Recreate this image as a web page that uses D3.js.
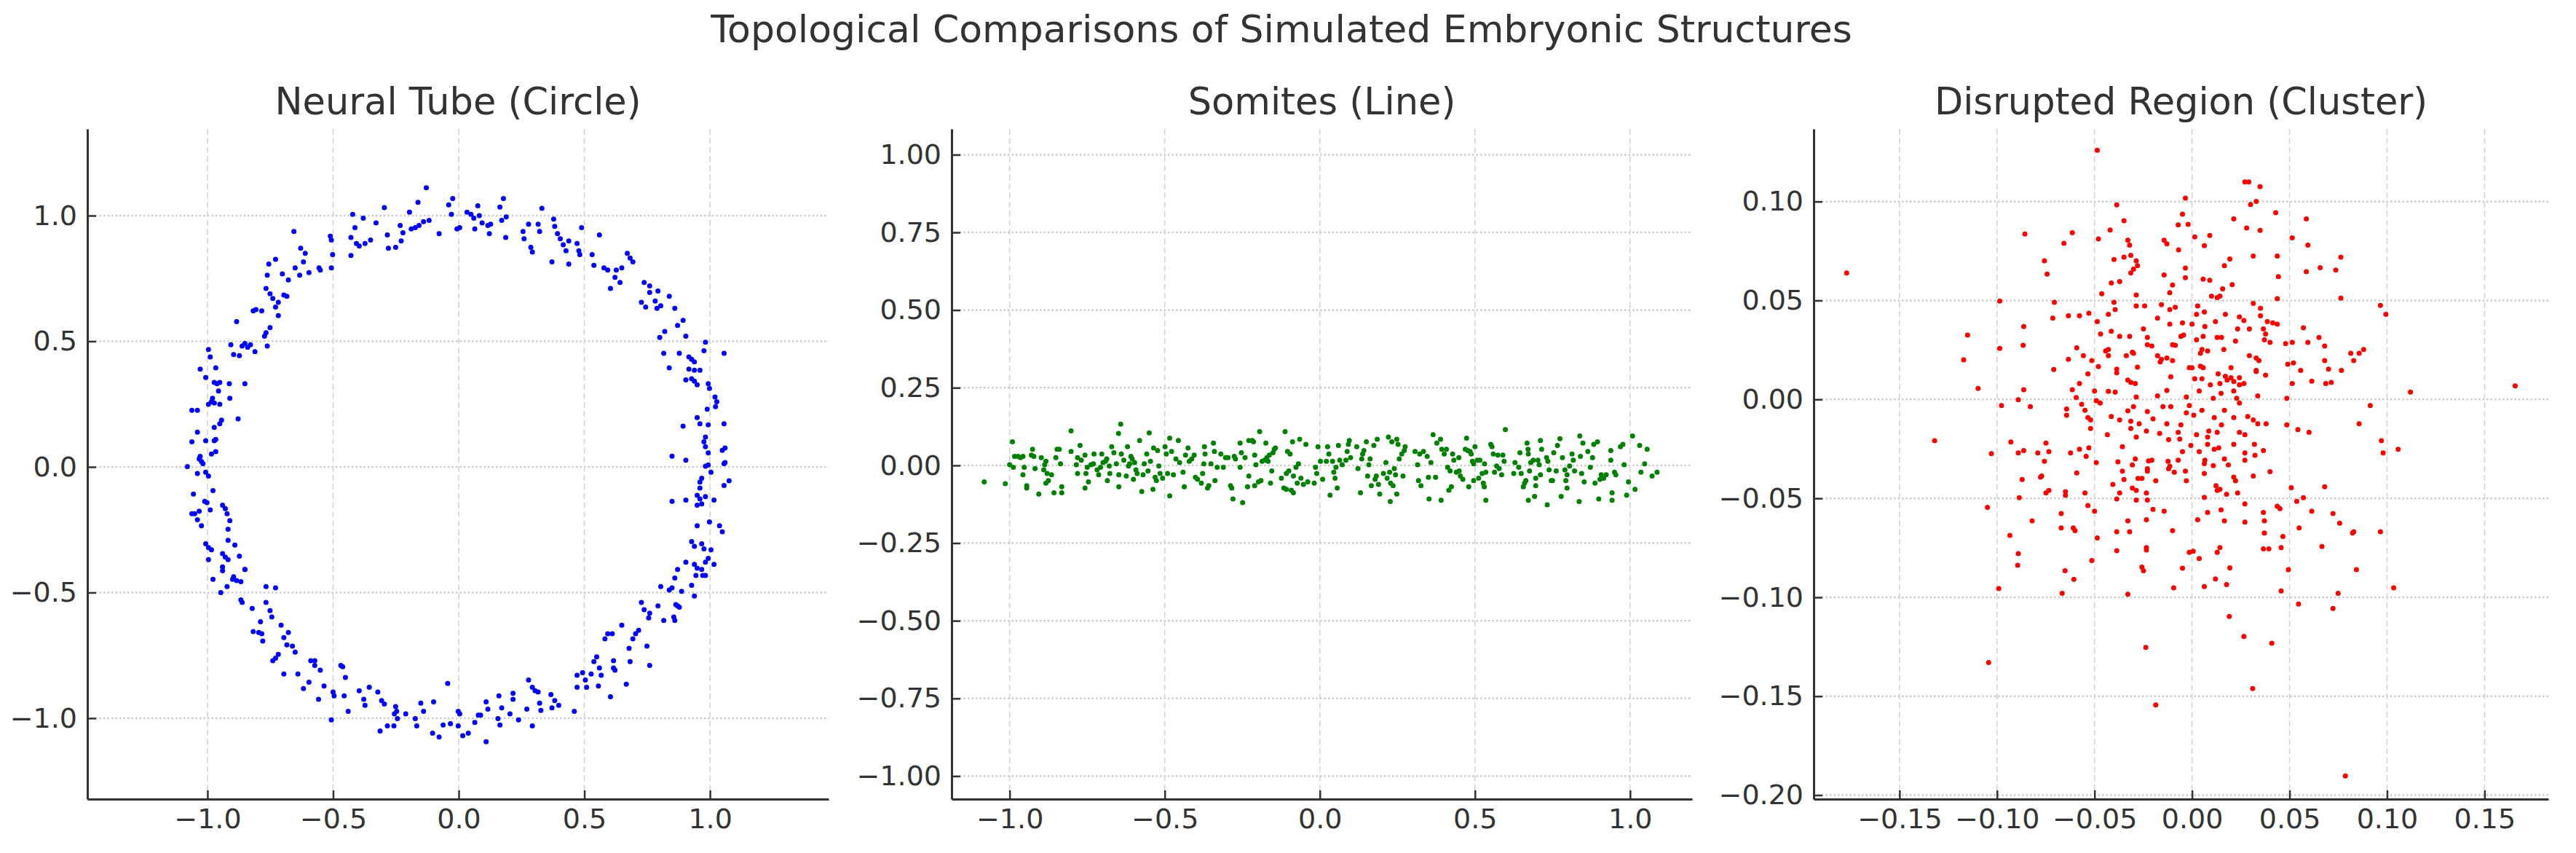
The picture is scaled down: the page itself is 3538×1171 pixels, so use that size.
<!DOCTYPE html>
<html><head><meta charset="utf-8">
<script src="https://cdn.jsdelivr.net/npm/d3@7"></script>
<style>html,body{margin:0;padding:0;background:#fff;} svg{display:block;}</style>
</head><body><svg id="c" width="3538" height="1171"></svg>
<script>
const figureTitle = "Topological Comparisons of Simulated Embryonic Structures";
const panelTitles = ["Neural Tube (Circle)", "Somites (Line)", "Disrupted Region (Cluster)"];

const tubeXTicks = [-1, -0.5, 0, 0.5, 1];
const tubeYTicks = [-1, -0.5, 0, 0.5, 1];
const somiteXTicks = [-1, -0.5, 0, 0.5, 1];
const somiteYTicks = [-1, -0.75, -0.5, -0.25, 0, 0.25, 0.5, 0.75, 1];
const clusterXTicks = [-0.15, -0.1, -0.05, 0, 0.05, 0.1, 0.15];
const clusterYTicks = [-0.2, -0.15, -0.1, -0.05, 0, 0.05, 0.1];

// Neural tube (noisy circle)
const neuralTube = [
[-0.767,0.710],[-0.762,0.763],[-0.756,0.807],[-0.729,0.826],[-0.702,0.768],[-0.678,0.744],[-0.656,0.937],[-0.651,0.792],[-0.633,0.763],[-0.629,0.870],
[-0.618,0.816],[-0.611,0.850],[-0.596,0.773],[-0.556,0.792],[-0.551,0.783],[-0.511,0.918],[-0.507,0.903],[-0.502,0.845],[-0.507,0.792],[-0.429,0.841],
[-0.429,0.913],[-0.422,1.005],[-0.413,0.952],[-0.407,0.889],[-0.396,0.879],[-0.380,0.990],[-0.373,0.889],[-0.351,0.903],[-0.329,0.971],[-0.296,1.032],
[-0.284,0.923],[-0.280,0.870],[-0.251,0.874],[-0.233,0.961],[-0.229,0.899],[-0.222,0.932],[-0.196,1.014],[-0.189,0.947],[-0.173,0.952],[-0.162,1.053],
[-0.158,0.961],[-0.140,0.976],[-0.129,1.111],[-0.118,0.981],[-0.078,0.928],[-0.040,1.043],[-0.024,1.068],[-0.029,1.005],[-0.007,0.947],[0.004,0.952],
[0.033,1.014],[0.049,1.005],[0.060,0.990],[0.064,0.947],[0.076,1.039],[0.082,1.000],[0.093,0.971],[0.116,0.961],[0.122,0.928],[0.127,0.966],
[0.164,1.034],[0.178,1.068],[0.171,0.981],[0.189,0.995],[0.187,0.913],[0.256,0.937],[0.260,0.908],[0.278,0.966],[0.287,0.874],[0.293,0.855],
[0.316,0.966],[0.322,0.937],[0.331,1.029],[0.371,0.816],[0.378,0.986],[0.382,0.957],[0.393,0.928],[0.404,0.908],[0.416,0.884],[0.427,0.860],
[0.438,0.899],[0.438,0.807],[0.471,0.889],[0.478,0.860],[0.482,0.845],[0.489,0.952],[0.531,0.845],[0.538,0.802],[0.560,0.923],[0.578,0.792],
[0.593,0.783],[0.627,0.783],[0.622,0.754],[0.642,0.734],[0.649,0.792],[0.671,0.850],[0.682,0.831],[0.693,0.816],[0.604,0.710],[0.738,0.734],
[0.760,0.720],[0.793,0.700],
[-0.751,0.689],[-0.740,0.670],[-0.718,0.655],[-0.696,0.684],[-0.684,0.679],[-0.729,0.636],[-0.718,0.602],[-0.751,0.554],[-0.767,0.534],[-0.773,0.520],
[-0.784,0.621],[-0.818,0.621],[-0.807,0.626],[-0.884,0.578],[-0.907,0.486],[-0.896,0.447],[-0.873,0.443],[-0.862,0.481],[-0.851,0.491],[-0.840,0.476],
[-0.829,0.486],[-0.811,0.459],[-0.762,0.481],[-1.029,0.389],[-1.007,0.356],[-0.996,0.467],[-0.989,0.438],[-0.967,0.394],[-0.973,0.336],[-0.962,0.331],
[-0.951,0.336],[-0.956,0.302],[-0.980,0.273],[-0.996,0.249],[-0.984,0.259],[-0.973,0.254],[-0.951,0.249],[-0.913,0.331],[-0.851,0.331],[-0.911,0.273],
[-1.062,0.225],[-1.040,0.225],[-1.040,0.138],[-1.062,0.100],[-1.007,0.104],[-0.973,0.157],[-0.951,0.172],[-0.944,0.186],[-0.973,0.104],[-0.967,0.109],
[-0.984,0.051],[-0.967,0.061],[-0.878,0.191],[-1.029,0.042],[-1.033,0.032],[-1.024,0.022],[-1.018,0.013],[-1.080,0.001],[-1.040,-0.026],[-1.007,-0.021],
[-0.996,-0.036],[-1.056,-0.108],[-0.978,-0.094],[-1.002,-0.142],[-1.011,-0.137],[-1.051,-0.186],[-1.062,-0.186],[-1.033,-0.176],[-0.989,-0.171],[-1.040,-0.210],
[-1.024,-0.234],[-0.940,-0.152],[-0.929,-0.166],[-0.922,-0.186],[-0.911,-0.214],[-0.918,-0.248],[-0.918,-0.292],[-0.891,-0.311],[-1.007,-0.306],[-0.996,-0.321],
[-0.984,-0.330],[-0.940,-0.345],[-0.929,-0.359],[-0.918,-0.369],[-0.873,-0.355],[-0.996,-0.369],[-0.940,-0.398],[-0.851,-0.408],
[0.727,0.655],[0.744,0.636],[0.760,0.694],[0.782,0.660],[0.789,0.631],[0.804,0.641],[0.838,0.679],[0.860,0.631],[0.800,0.515],[0.820,0.539],
[0.871,0.563],[0.893,0.583],[0.904,0.520],[0.982,0.496],[0.816,0.452],[0.878,0.452],[0.838,0.394],[0.916,0.438],[0.927,0.428],[0.938,0.418],
[0.976,0.462],[1.056,0.452],[0.916,0.389],[0.938,0.385],[0.960,0.385],[0.904,0.346],[0.927,0.351],[0.938,0.341],[0.949,0.327],[0.993,0.331],
[0.998,0.312],[1.020,0.278],[1.027,0.259],[1.022,0.240],[0.989,0.230],[0.949,0.196],[0.960,0.172],[0.993,0.167],[1.056,0.172],[0.893,0.162],
[0.982,0.119],[0.976,0.100],[0.982,0.080],[0.993,0.056],[1.060,0.075],[1.049,0.066],[0.849,0.043],[0.904,0.027],[0.993,0.008],[0.982,0.003],
[1.004,-0.021],[1.060,0.017],[1.056,0.013],[1.076,-0.055],[1.056,-0.074],[0.967,-0.045],[0.960,-0.060],[0.960,-0.084],[0.949,-0.113],[0.960,-0.128],
[0.967,-0.147],[0.949,-0.152],[0.982,-0.118],[1.016,-0.132],[0.849,-0.137],[0.904,-0.132],[0.949,-0.234],[0.998,-0.219],[1.038,-0.234],[1.049,-0.258],
[0.927,-0.297],[0.938,-0.316],[0.967,-0.306],[0.976,-0.326],[1.004,-0.330],[0.904,-0.379],[0.938,-0.388],[0.949,-0.403],[0.982,-0.379],[0.993,-0.364],
[1.016,-0.388],
[-0.978,-0.447],[-0.940,-0.413],[-0.922,-0.476],[-0.896,-0.437],[-0.884,-0.452],[-0.900,-0.447],[-0.867,-0.457],[-0.851,-0.408],[-0.947,-0.500],[-0.867,-0.529],
[-0.862,-0.539],[-0.822,-0.563],[-0.789,-0.616],[-0.767,-0.476],[-0.729,-0.481],[-0.767,-0.539],[-0.751,-0.572],[-0.744,-0.597],[-0.818,-0.655],[-0.796,-0.659],
[-0.784,-0.664],[-0.780,-0.693],[-0.707,-0.630],[-0.696,-0.679],[-0.684,-0.708],[-0.678,-0.659],[-0.662,-0.713],[-0.651,-0.737],[-0.718,-0.746],[-0.729,-0.761],
[-0.740,-0.771],[-0.696,-0.824],[-0.640,-0.824],[-0.618,-0.882],[-0.596,-0.857],[-0.589,-0.771],[-0.573,-0.771],[-0.573,-0.790],[-0.551,-0.809],[-0.558,-0.925],
[-0.536,-0.872],[-0.500,-0.896],[-0.496,-0.911],[-0.507,-1.007],[-0.469,-0.790],[-0.462,-0.795],[-0.456,-0.911],[-0.451,-0.838],[-0.440,-0.973],[-0.396,-0.891],
[-0.378,-0.925],[-0.373,-0.949],[-0.356,-0.877],[-0.322,-0.896],[-0.307,-0.930],[-0.296,-0.944],[-0.313,-1.051],[-0.284,-1.031],[-0.258,-1.031],[-0.251,-0.954],
[-0.247,-0.973],[-0.256,-0.983],[-0.244,-1.002],[-0.211,-0.983],[-0.173,-1.002],[-0.167,-1.031],[-0.151,-0.940],[-0.140,-0.973],[-0.100,-0.935],[-0.104,-1.060],
[-0.078,-1.075],[-0.062,-1.027],[-0.044,-0.862],[-0.033,-1.022],[-0.002,-0.973],[0.004,-0.983],[-0.002,-1.031],[0.016,-1.070],[0.038,-1.060],[0.064,-1.017],
[0.078,-0.988],[0.087,-0.988],[0.109,-0.935],[0.116,-0.964],[0.109,-1.094],[0.160,-0.911],[0.156,-1.002],[0.164,-1.027],[0.171,-0.959],[0.204,-0.983],
[0.216,-0.901],[0.216,-0.925],[0.238,-1.007],[0.271,-0.964],[0.278,-0.848],[0.293,-0.877],[0.293,-1.031],[0.304,-0.891],[0.316,-0.896],[0.322,-0.940],
[0.327,-0.969],[0.367,-0.906],[0.371,-0.959],[0.382,-0.930],[0.398,-0.949],[0.460,-0.973],
[0.471,-0.829],[0.493,-0.819],[0.471,-0.877],[0.504,-0.848],[0.509,-0.877],[0.527,-0.824],[0.538,-0.775],[0.549,-0.756],[0.560,-0.800],[0.567,-0.829],
[0.556,-0.872],[0.582,-0.684],[0.593,-0.664],[0.611,-0.664],[0.604,-0.915],[0.616,-0.771],[0.616,-0.800],[0.622,-0.809],[0.649,-0.630],[0.667,-0.865],
[0.678,-0.722],[0.682,-0.775],[0.693,-0.684],[0.704,-0.664],[0.716,-0.650],[0.727,-0.539],[0.738,-0.568],[0.749,-0.713],[0.760,-0.790],[0.756,-0.601],
[0.760,-0.582],[0.793,-0.553],[0.804,-0.476],[0.816,-0.611],[0.838,-0.490],[0.849,-0.481],[0.856,-0.597],[0.860,-0.611],[0.864,-0.548],[0.871,-0.553],
[0.887,-0.495],[0.878,-0.558],[0.860,-0.442],[0.871,-0.408],[0.927,-0.471],[0.938,-0.514],[0.944,-0.432],[0.971,-0.432],[0.982,-0.432],[0.967,-0.408]
];

// Somites (noisy line)
const somites = [
[-1.082,-0.053],[-1.014,-0.059],[-0.991,0.076],[-1.000,0.002],[-0.988,-0.006],[-0.984,0.029],[-0.973,0.029],[-0.965,0.025],[-0.957,0.029],[-0.953,-0.006],
[-0.957,-0.030],[-0.945,-0.073],[-0.945,-0.065],[-0.926,0.052],[-0.930,0.033],[-0.922,0.029],[-0.918,-0.010],[-0.906,-0.092],[-0.898,0.025],[-0.890,-0.014],
[-0.887,0.002],[-0.883,0.013],[-0.879,-0.026],[-0.883,-0.057],[-0.875,-0.049],[-0.865,-0.030],[-0.857,-0.088],[-0.851,0.025],[-0.847,0.052],[-0.840,0.052],
[-0.836,0.005],[-0.832,-0.069],[-0.832,-0.088],[-0.802,0.111],[-0.802,0.045],[-0.785,0.002],[-0.781,-0.026],[-0.781,0.025],[-0.773,0.064],[-0.769,0.017],
[-0.757,0.033],[-0.757,-0.073],[-0.754,-0.026],[-0.750,-0.006],[-0.746,-0.053],[-0.738,0.002],[-0.730,0.005],[-0.728,0.037],[-0.718,-0.014],[-0.713,-0.030],
[-0.707,-0.006],[-0.703,0.037],[-0.699,0.009],[-0.691,0.013],[-0.687,0.021],[-0.685,-0.049],[-0.679,-0.002],[-0.677,-0.026],[-0.671,0.060],[-0.664,0.041],
[-0.656,0.005],[-0.649,0.103],[-0.648,-0.030],[-0.648,-0.069],[-0.642,0.133],[-0.640,0.037],[-0.632,0.017],[-0.624,-0.034],[-0.620,0.060],[-0.617,-0.002],
[-0.613,0.005],[-0.609,0.029],[-0.605,0.021],[-0.601,-0.045],[-0.597,0.009],[-0.593,-0.014],[-0.589,-0.026],[-0.581,0.080],[-0.574,-0.084],[-0.570,-0.030],
[-0.566,0.005],[-0.558,0.037],[-0.554,-0.018],[-0.550,0.105],[-0.546,0.013],[-0.538,-0.077],[-0.536,0.056],[-0.531,-0.038],[-0.527,-0.049],[-0.523,0.048],
[-0.519,-0.002],[-0.515,-0.026],[-0.507,-0.041],[-0.499,0.060],[-0.495,0.037],[-0.491,-0.026],[-0.484,0.088],[-0.484,-0.098],[-0.478,0.045],[-0.472,-0.030],
[-0.464,0.021],[-0.456,0.080],[-0.452,0.009],[-0.441,-0.022],[-0.437,-0.069],[-0.433,0.033],[-0.425,0.056],[-0.421,0.013],[-0.413,0.021],[-0.405,0.033],
[-0.401,-0.038],[-0.394,-0.045],[-0.382,-0.057],[-0.378,-0.026],[-0.374,0.005],[-0.372,0.060],[-0.370,0.037],[-0.362,-0.073],[-0.358,-0.065],[-0.351,0.005],
[-0.343,0.072],[-0.340,0.045],[-0.338,-0.049],[-0.331,-0.006],
[-0.319,0.037],[-0.311,-0.006],[-0.304,0.025],[-0.296,0.025],[-0.288,-0.065],[-0.284,-0.073],[-0.280,-0.108],[-0.276,0.029],[-0.272,0.021],[-0.257,0.072],
[-0.257,-0.006],[-0.253,0.041],[-0.249,-0.120],[-0.241,0.025],[-0.233,-0.069],[-0.229,0.080],[-0.229,-0.034],[-0.218,0.080],[-0.214,0.076],[-0.210,0.033],
[-0.210,-0.065],[-0.206,0.002],[-0.198,-0.053],[-0.194,0.109],[-0.190,-0.049],[-0.186,0.013],[-0.178,0.017],[-0.174,0.072],[-0.171,0.025],[-0.167,0.013],
[-0.163,0.033],[-0.159,-0.057],[-0.155,-0.018],[-0.151,0.041],[-0.147,0.052],[-0.143,0.056],[-0.124,-0.041],[-0.116,-0.073],[-0.112,0.109],[-0.108,-0.026],
[-0.108,-0.077],[-0.104,0.045],[-0.100,-0.018],[-0.096,0.037],[-0.092,-0.080],[-0.088,0.076],[-0.085,-0.034],[-0.085,-0.088],[-0.077,-0.006],[-0.073,-0.057],
[-0.069,0.005],[-0.065,0.084],[-0.061,-0.041],[-0.053,-0.061],[-0.045,0.068],[-0.039,-0.053],[-0.018,-0.057],[-0.014,-0.006],[-0.010,-0.026],[-0.006,0.060],
[0.002,0.013],[0.009,-0.045],[0.021,0.013],[0.025,0.060],[0.029,0.037],[0.033,-0.096],[0.041,0.013],[0.045,-0.022],[0.049,-0.041],[0.052,-0.006],
[0.056,-0.073],[0.060,0.064],[0.064,0.017],[0.072,0.002],[0.084,0.017],[0.088,0.045],[0.092,0.068],[0.095,0.080],[0.099,0.025],[0.119,0.060],
[0.123,-0.010],[0.131,-0.088],[0.135,0.021],[0.138,0.037],[0.142,0.048],[0.150,0.076],[0.154,-0.034],[0.158,0.002],[0.162,0.021],[0.166,-0.065],
[0.174,0.064],[0.178,-0.045],[0.182,-0.034],[0.185,0.084],[0.189,-0.061],[0.193,-0.092],[0.205,-0.026],[0.213,0.009],[0.217,-0.041],[0.221,0.091],
[0.225,-0.022],[0.227,-0.116],[0.228,-0.057],[0.232,0.076],[0.236,-0.065],[0.240,-0.010],[0.244,-0.030],[0.248,-0.092],[0.248,0.084],[0.252,0.068],
[0.256,0.021],[0.264,0.037],[0.268,-0.034],[0.272,0.048],[0.275,0.060],[0.307,0.045],[0.315,0.002],[0.318,-0.049],[0.322,0.037],[0.326,-0.065],
[0.334,0.045],[0.346,0.029],[0.350,-0.038],[0.352,-0.108],[0.358,0.009],[0.365,0.099],[0.373,-0.038],[0.377,0.072],[0.389,0.084],[0.391,-0.112],
[0.393,0.052],[0.401,0.037],[0.408,0.052],[0.412,-0.006],[0.416,-0.080],[0.420,-0.018],[0.424,-0.069],[0.428,0.037],[0.432,0.017],[0.440,-0.022],
[0.448,0.025],
[0.449,-0.018],[0.453,-0.034],[0.461,-0.045],[0.473,0.088],[0.469,0.052],[0.477,0.048],[0.480,-0.069],[0.484,0.045],[0.488,0.037],[0.492,0.013],
[0.496,0.005],[0.496,-0.049],[0.500,0.060],[0.508,0.017],[0.512,-0.041],[0.516,0.017],[0.523,-0.026],[0.527,-0.057],[0.530,-0.069],[0.531,0.005],
[0.535,-0.112],[0.535,-0.022],[0.551,0.068],[0.555,0.060],[0.559,0.037],[0.563,-0.022],[0.570,-0.002],[0.574,0.033],[0.578,-0.010],[0.586,-0.030],
[0.590,0.033],[0.594,0.013],[0.598,0.115],[0.625,-0.026],[0.629,0.009],[0.641,-0.006],[0.645,0.041],[0.649,-0.026],[0.656,-0.069],[0.660,-0.057],
[0.664,-0.049],[0.668,0.072],[0.671,0.052],[0.672,0.037],[0.672,-0.112],[0.676,-0.018],[0.680,0.009],[0.688,0.017],[0.692,-0.100],[0.696,-0.041],
[0.696,-0.065],[0.703,0.017],[0.707,0.002],[0.711,0.080],[0.715,0.052],[0.711,-0.030],[0.731,0.025],[0.733,-0.127],[0.735,0.013],[0.739,-0.014],
[0.746,-0.049],[0.750,-0.049],[0.754,0.041],[0.762,-0.018],[0.766,0.064],[0.774,0.086],[0.778,-0.100],[0.782,0.025],[0.790,-0.014],[0.793,-0.049],
[0.797,-0.030],[0.797,-0.073],[0.805,-0.002],[0.813,0.037],[0.817,0.017],[0.821,-0.018],[0.836,-0.116],[0.838,0.095],[0.840,0.029],[0.844,-0.026],
[0.848,0.072],[0.852,-0.053],[0.864,0.045],[0.872,-0.006],[0.879,0.025],[0.883,0.068],[0.887,-0.057],[0.895,0.076],[0.899,-0.108],[0.903,-0.045],
[0.907,-0.030],[0.915,-0.041],[0.923,-0.030],[0.938,0.048],[0.938,0.017],[0.942,-0.088],[0.942,-0.112],[0.950,-0.022],[0.954,-0.030],[0.969,0.060],
[0.977,0.068],[0.981,0.002],[0.989,-0.096],[0.995,-0.053],[1.008,0.095],[1.016,-0.077],[1.031,0.064],[1.035,-0.022],[1.047,0.005],[1.055,0.052],
[1.071,-0.034],[1.087,-0.022]
];

// Disrupted region (cluster)
const disrupted = [
[-0.0486,0.1259],[-0.1771,0.0639],[0.0271,0.1099],[0.0291,0.1099],[0.0349,0.1075],[-0.0034,0.1017],[0.0300,0.0985],[0.0329,0.1001],[-0.0386,0.0983],[0.0429,0.0944],
[-0.0049,0.0936],[-0.0349,0.0903],[0.0214,0.0912],[0.0586,0.0912],[-0.0071,0.0882],[-0.0020,0.0885],[-0.0420,0.0856],[0.0280,0.0866],[0.0349,0.0854],[-0.0857,0.0836],
[-0.0614,0.0842],[-0.0657,0.0789],[-0.0480,0.0811],[-0.0329,0.0805],[-0.0320,0.0780],[-0.0143,0.0805],[-0.0129,0.0786],[0.0014,0.0821],[0.0091,0.0829],[0.0063,0.0777],
[-0.0069,0.0756],[0.0514,0.0817],[0.0594,0.0780],[-0.0757,0.0701],[-0.0400,0.0707],[-0.0349,0.0719],[-0.0314,0.0728],[-0.0286,0.0701],[-0.0280,0.0676],[-0.0300,0.0658],
[-0.0314,0.0639],[0.0314,0.0725],[0.0437,0.0725],[0.0194,0.0710],[0.0166,0.0676],[0.0763,0.0719],[0.0657,0.0666],[0.0737,0.0654],[0.0586,0.0645],[-0.0743,0.0633],
[-0.0143,0.0629],[-0.0034,0.0664],[-0.0034,0.0615],[0.0057,0.0608],[0.0091,0.0602],[-0.0414,0.0588],[-0.0371,0.0596],[-0.0100,0.0578],[0.0206,0.0580],[0.0157,0.0559],
[0.0443,0.0621],
[-0.0463,0.0534],[-0.0286,0.0528],[-0.0114,0.0540],[0.0143,0.0522],[0.0129,0.0515],[-0.0986,0.0497],[-0.0706,0.0491],[-0.0400,0.0491],[-0.0286,0.0472],[-0.0243,0.0472],
[-0.0157,0.0479],[-0.0086,0.0466],[0.0029,0.0472],[0.0100,0.0522],[0.0314,0.0485],[0.0351,0.0460],[0.0437,0.0509],[0.0763,0.0512],[0.0966,0.0475],[0.0994,0.0430],
[-0.0714,0.0411],[-0.0634,0.0423],[-0.0577,0.0423],[-0.0529,0.0436],[-0.0429,0.0430],[-0.0394,0.0454],[-0.0177,0.0411],[-0.0114,0.0454],[0.0023,0.0430],[0.0063,0.0442],
[0.0171,0.0430],[0.0243,0.0417],[0.0266,0.0399],[0.0351,0.0423],[-0.0486,0.0393],[-0.0863,0.0368],[-0.1151,0.0325],[-0.0469,0.0331],[-0.0414,0.0344],[-0.0371,0.0319],
[-0.0320,0.0319],[-0.0249,0.0356],[-0.0114,0.0380],[-0.0049,0.0387],[0.0000,0.0380],[0.0066,0.0368],[0.0120,0.0393],[0.0234,0.0356],[0.0294,0.0356],[0.0366,0.0356],
[0.0386,0.0393],[0.0414,0.0387],[0.0437,0.0380],[0.0571,0.0362],[0.0377,0.0331],[-0.0229,0.0313],[-0.0057,0.0319],[-0.0043,0.0325],[0.0023,0.0301],[0.0057,0.0319],
[0.0129,0.0313],[0.0151,0.0313],[0.0223,0.0295],[0.0651,0.0313],[0.0480,0.0282],[0.0514,0.0288],[0.0400,0.0288],[0.0371,0.0301],[-0.0100,0.0276],[-0.0986,0.0258],
[-0.0866,0.0274],[-0.0591,0.0261],[-0.0443,0.0245],[-0.0429,0.0252],[-0.0306,0.0239],[-0.0229,0.0276],[-0.0206,0.0270],[-0.0086,0.0274],[0.0051,0.0252],[0.0043,0.0233],
[0.0080,0.0245],[0.0163,0.0252],[0.0594,0.0288],[0.0680,0.0270],[0.0880,0.0252],[0.0857,0.0233],[0.0814,0.0233],[0.0829,0.0196],[0.0329,0.0209],[0.0343,0.0196],
[0.0491,0.0178],[0.0520,0.0184],[-0.0634,0.0203],[-0.0557,0.0221],[-0.0514,0.0196],[-0.0429,0.0221],[-0.0337,0.0221],[-0.0300,0.0233],[-0.0177,0.0221],[-0.0157,0.0203],
[-0.0129,0.0209],[-0.0100,0.0196],[0.0294,0.0221],[-0.0163,0.0190],[0.0680,0.0196],[-0.1171,0.0200],[-0.0709,0.0151],[-0.0386,0.0153],[-0.0386,0.0135],[-0.0280,0.0163],
[-0.0014,0.0160],[0.0000,0.0160],[0.0043,0.0168],[0.0057,0.0160],[0.0200,0.0160],[0.0329,0.0147],[0.0377,0.0123],[0.0557,0.0147],[0.0700,0.0153],[0.0766,0.0147],
[-0.0534,0.0129],[-0.0480,0.0166],[0.0134,0.0129],[0.0171,0.0117],[-0.0109,0.0114],[0.0200,0.0110],[0.0243,0.0110],[-0.0577,0.0080],[-0.0329,0.0098],[-0.0314,0.0086],
[-0.0291,0.0080],[0.0014,0.0104],[0.0051,0.0104],[0.0094,0.0074],[0.0143,0.0080],[0.0180,0.0098],[0.0214,0.0090],[0.0243,0.0074],[0.0266,0.0080],[0.0514,0.0080],
[0.0614,0.0092],[0.0686,0.0080],[0.0714,0.0086],[0.0329,0.0141],[-0.1097,0.0055],[-0.0863,0.0049],[-0.0614,0.0049],[-0.0500,0.0043],[-0.0429,0.0041],[-0.0394,0.0037],
[-0.0177,0.0018],[-0.0129,0.0045],[-0.0029,0.0012],[0.0037,0.0043],[0.0109,0.0006],[0.0149,0.0031],[0.0214,0.0043],[0.0229,0.0006],[0.0243,-0.0018],[0.0337,0.0018],
[0.0486,0.0006],[-0.0891,-0.0002],[-0.0977,-0.0031],[-0.0829,-0.0037],[-0.0594,0.0009],[-0.0566,-0.0025],[-0.0491,-0.0006],[-0.0471,-0.0018],[-0.0286,0.0012],[-0.0300,-0.0037],
[-0.0149,-0.0037],[-0.0109,-0.0037],[-0.0014,-0.0031],[-0.0029,-0.0068],[0.0051,-0.0055],[0.0166,-0.0055],[0.0914,-0.0031],[0.1120,0.0037],[0.1657,0.0068],[-0.0643,-0.0049],
[-0.0643,-0.0080],[-0.0549,-0.0055],[-0.0534,-0.0092],[-0.0329,-0.0058],[-0.0229,-0.0061],[-0.0520,-0.0104],[-0.0414,-0.0086],[-0.0371,-0.0104],[-0.0314,-0.0110],[-0.0271,-0.0123],
[-0.0234,-0.0160],[-0.0200,-0.0098],[-0.0129,-0.0123],[-0.0057,-0.0129],[0.0009,-0.0080],[0.0114,-0.0092],[0.0214,-0.0092],[0.0286,-0.0086],[0.0314,-0.0104],[0.0337,-0.0123],
[0.0380,-0.0123],[0.0151,-0.0129],[0.0486,-0.0129],[0.0543,-0.0153],[0.0600,-0.0166],[0.0857,-0.0123],[-0.0520,-0.0147],[-0.0434,-0.0178],[-0.0314,-0.0147],[-0.0286,-0.0190],
[-0.0166,-0.0172],[-0.0071,-0.0166],[0.0023,-0.0178],[0.0086,-0.0160],[0.0129,-0.0166],[0.0243,-0.0166],[0.0271,-0.0178],[-0.1320,-0.0209],[-0.0929,-0.0215],[-0.0749,-0.0221],
[-0.1029,-0.0274],[-0.0891,-0.0270],[-0.0863,-0.0258],[-0.0791,-0.0270],[-0.0734,-0.0264],[-0.0623,-0.0270],[-0.0577,-0.0252],[-0.0529,-0.0245],[-0.0357,-0.0239],[-0.0120,-0.0203],
[-0.0063,-0.0200],[-0.0006,-0.0233],[0.0080,-0.0227],[0.0137,-0.0245],[0.0114,-0.0252],[0.0214,-0.0227],[0.0320,-0.0227],[0.0080,-0.0190],[0.0971,-0.0209],[0.0980,-0.0270],
[0.1057,-0.0252],[-0.0049,-0.0264],[0.0037,-0.0264],[0.0271,-0.0270],[0.0366,-0.0258],[-0.0543,-0.0288],[-0.0380,-0.0315],[-0.0291,-0.0301],[-0.0223,-0.0311],[-0.0206,-0.0307],
[-0.0123,-0.0313],[-0.0071,-0.0307],[0.0066,-0.0307],[0.0166,-0.0301],[0.0271,-0.0307],[0.0323,-0.0282],[-0.0757,-0.0313],[-0.0491,-0.0319],[-0.0306,-0.0331],[-0.0229,-0.0350],
[-0.0114,-0.0338],[-0.0091,-0.0368],[-0.0120,-0.0350],[-0.0034,-0.0362],[0.0063,-0.0325],[0.0109,-0.0335],[0.0186,-0.0331],[-0.0771,-0.0387],[-0.0591,-0.0372],[-0.0357,-0.0362],
[-0.0229,-0.0362],[0.0063,-0.0374],[0.0214,-0.0393],[0.0223,-0.0411],[0.0400,-0.0365],[0.0314,-0.0387],[-0.0871,-0.0405],[-0.0777,-0.0393],[-0.0406,-0.0430],[-0.0349,-0.0405],
[-0.0277,-0.0399],[-0.0257,-0.0399],[-0.0186,-0.0411],[-0.0029,-0.0411],[0.0123,-0.0436],[0.0143,-0.0454],[0.0509,-0.0446],[0.0680,-0.0442],[-0.0734,-0.0460],[-0.0749,-0.0473],
[-0.0649,-0.0466],[-0.0649,-0.0485],[-0.0549,-0.0473],[-0.0886,-0.0497],[-0.0371,-0.0473],[-0.0306,-0.0448],[-0.0286,-0.0460],[-0.0234,-0.0473],[-0.0229,-0.0509],[0.0063,-0.0495],
[0.0129,-0.0460],[0.0177,-0.0479],[0.0234,-0.0473],[0.0571,-0.0497],[0.0537,-0.0515],[-0.1049,-0.0546],[-0.0534,-0.0536],[-0.0500,-0.0565],[-0.0386,-0.0503],[-0.0286,-0.0509],
[-0.0200,-0.0556],[-0.0143,-0.0565],[0.0149,-0.0558],[0.0080,-0.0571],[0.0437,-0.0540],[0.0451,-0.0552],[0.0366,-0.0571],[0.0271,-0.0528],[-0.0671,-0.0577],[-0.0820,-0.0614],
[-0.0329,-0.0614],[-0.0234,-0.0608],[0.0029,-0.0608],[0.0166,-0.0614],[0.0271,-0.0620],[0.0371,-0.0614],[0.0614,-0.0565],[0.0723,-0.0577],[0.0757,-0.0626],[-0.0671,-0.0650],
[-0.0600,-0.0663],[-0.0609,-0.0650],[-0.0386,-0.0669],[-0.0320,-0.0669],[-0.0100,-0.0663],[0.0371,-0.0675],[0.0549,-0.0650],[0.0829,-0.0669],[0.0823,-0.0675],[0.0966,-0.0669],
[-0.0934,-0.0687],[-0.0486,-0.0700],[0.0466,-0.0693],[-0.0891,-0.0779],[-0.0386,-0.0765],[-0.0234,-0.0749],[-0.0234,-0.0761],[-0.0014,-0.0773],[0.0006,-0.0767],[0.0037,-0.0804],
[0.0129,-0.0773],[0.0143,-0.0749],[0.0366,-0.0755],[0.0394,-0.0755],[0.0457,-0.0749],[0.0666,-0.0743],[-0.0894,-0.0838],[-0.0514,-0.0814],[-0.0257,-0.0847],[-0.0049,-0.0853],
[0.0194,-0.0851],
[-0.0651,-0.0866],[-0.0249,-0.0866],[0.0494,-0.0860],[0.0843,-0.0860],[-0.0606,-0.0909],[-0.0991,-0.0956],[-0.0666,-0.0980],[-0.0329,-0.0985],[-0.0094,-0.0952],[0.0063,-0.0946],
[0.0120,-0.0907],[0.0177,-0.0936],[0.0457,-0.0968],[0.0749,-0.0980],[0.1034,-0.0952],[0.0546,-0.1034],[0.0723,-0.1056],[0.0191,-0.1097],[0.0266,-0.1198],[0.0409,-0.1232],
[-0.0237,-0.1253],[-0.1043,-0.1330],[0.0311,-0.1461],[-0.0186,-0.1544],[0.0786,-0.1903]
];

const seriesColors = ["#0000ff", "#008000", "#ff0000"];

// ---------- layout ----------
const W = 3538, H = 1171;
const plotTop = 177, plotBottom = 1097;
const panels = [
  {title: panelTitles[0], data: neuralTube, color: seriesColors[0], left: 120, right: 1138,
   xDomain: [-1.478, 1.472], yDomain: [-1.322, 1.345], xTicks: tubeXTicks, yTicks: tubeYTicks, xFmt: ".1f", yFmt: ".1f"},
  {title: panelTitles[1], data: somites, color: seriesColors[1], left: 1307, right: 2324,
   xDomain: [-1.187, 1.200], yDomain: [-1.074, 1.083], xTicks: somiteXTicks, yTicks: somiteYTicks, xFmt: ".1f", yFmt: ".2f"},
  {title: panelTitles[2], data: disrupted, color: seriesColors[2], left: 2491, right: 3500,
   xDomain: [-0.194, 0.1827], yDomain: [-0.202, 0.1367], xTicks: clusterXTicks, yTicks: clusterYTicks, xFmt: ".2f", yFmt: ".2f"}
];

const FONT = "'DejaVu Sans', Verdana, sans-serif";
const TEXT = "#333333";
const svg = d3.select("#c");
svg.append("rect").attr("width", W).attr("height", H).attr("fill", "#fff");

svg.append("text")
  .attr("x", 1760).attr("y", 58)
  .attr("text-anchor", "middle")
  .attr("font-family", FONT).attr("font-size", 52).attr("fill", TEXT)
  .text(figureTitle);

panels.forEach(p => {
  const x = d3.scaleLinear().domain(p.xDomain).range([p.left, p.right]);
  const y = d3.scaleLinear().domain(p.yDomain).range([plotBottom, plotTop]);
  const g = svg.append("g");

  // grid
  g.append("g").selectAll("line").data(p.yTicks).join("line")
    .attr("x1", p.left).attr("x2", p.right)
    .attr("y1", d => y(d)).attr("y2", d => y(d))
    .attr("stroke", "#cccccc").attr("stroke-width", 2.5)
    .attr("stroke-dasharray", "2.5,3");
  g.append("g").selectAll("line").data(p.xTicks).join("line")
    .attr("x1", d => x(d)).attr("x2", d => x(d))
    .attr("y1", plotTop).attr("y2", plotBottom)
    .attr("stroke", "#d4d4d4").attr("stroke-width", 1.6)
    .attr("stroke-dasharray", "8,4.5");

  // points
  g.append("g").selectAll("circle").data(p.data).join("circle")
    .attr("cx", d => x(d[0])).attr("cy", d => y(d[1]))
    .attr("r", 3.5).attr("fill", p.color);

  // axes
  const xAxis = d3.axisBottom(x).tickValues(p.xTicks).tickFormat(d3.format(p.xFmt))
    .tickSizeInner(-12).tickSizeOuter(0).tickPadding(13);
  const yAxis = d3.axisLeft(y).tickValues(p.yTicks).tickFormat(d3.format(p.yFmt))
    .tickSizeInner(-12).tickSizeOuter(0).tickPadding(14);

  const gx = g.append("g").attr("transform", `translate(0,${plotBottom})`).call(xAxis);
  const gy = g.append("g").attr("transform", `translate(${p.left},0)`).call(yAxis);
  [gx, gy].forEach(a => {
    a.select(".domain").attr("stroke", "#333").attr("stroke-width", 3);
    a.selectAll(".tick line").attr("stroke", "#333").attr("stroke-width", 2.5);
    a.selectAll(".tick text").attr("font-family", FONT).attr("font-size", 38).attr("fill", TEXT);
  });

  // subplot title
  g.append("text")
    .attr("x", (p.left + p.right) / 2).attr("y", 157)
    .attr("text-anchor", "middle")
    .attr("font-family", FONT).attr("font-size", 51).attr("fill", TEXT)
    .text(p.title);
});
</script>
</body></html>
